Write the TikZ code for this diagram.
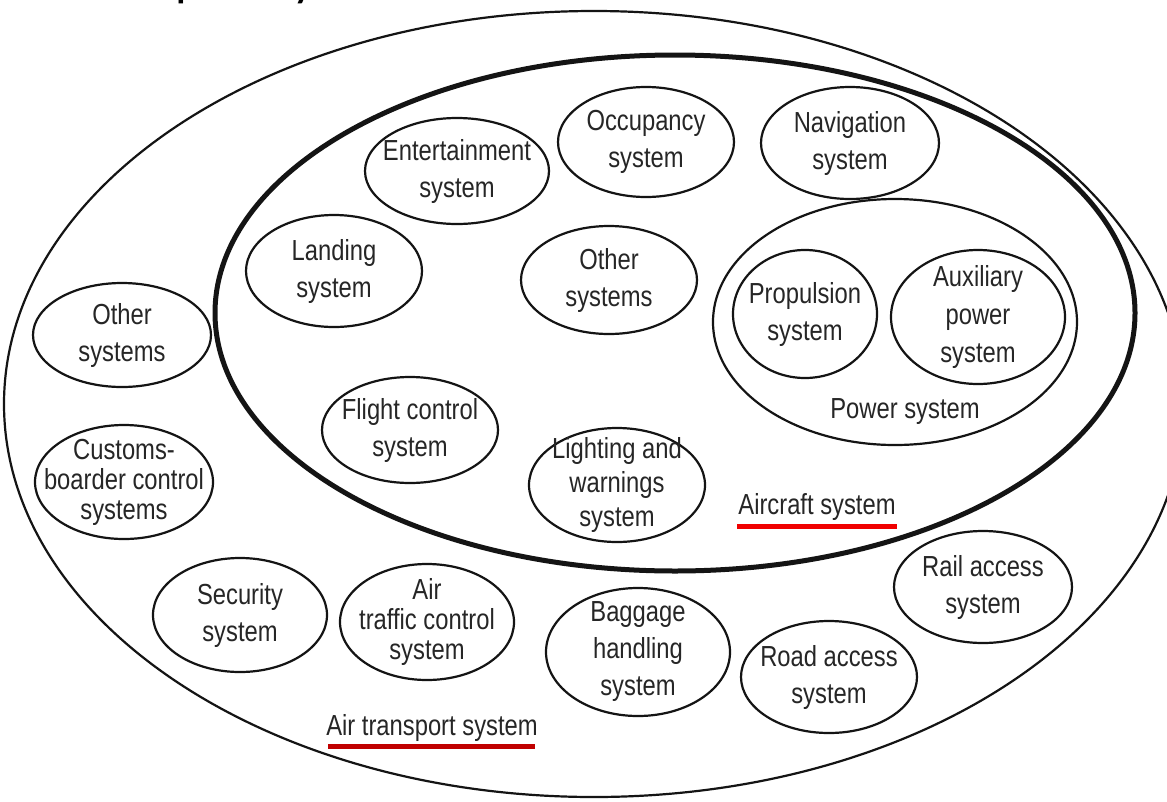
\documentclass[tikz,border=0pt]{standalone}
\usepackage{fontspec}
\setmainfont[FakeStretch=0.82]{Liberation Sans}
\newfontfamily\titlefont{Carlito}
\usetikzlibrary{shapes.geometric}
\definecolor{linec}{HTML}{141414}
\definecolor{txt}{HTML}{262626}
\definecolor{redA}{HTML}{F00000}
\definecolor{redB}{HTML}{C00000}
\newcommand\ovalfont{\fontsize{29}{37}\selectfont}
\newcommand\ovalfontc{\fontsize{29}{30}\selectfont}
\newcommand\ovalfontd{\fontsize{29}{34}\selectfont}
\newcommand\ovalfonte{\fontsize{29}{38}\selectfont}
\tikzset{
  oval/.style={ellipse, draw=linec, line width=2.2pt, inner sep=0pt},
  container/.style={ellipse, draw=linec, inner sep=0pt},
  lbl/.style={text=txt, font=\ovalfont, inner sep=0pt, align=center},
  uline/.style={line width=5pt},
}
\begin{document}
\begin{tikzpicture}[x=1pt,y=-1pt]
\useasboundingbox (0,0) rectangle (1167,801);
\fill[white] (0,0) rectangle (1167,801);
\clip (0,0) rectangle (1167,801);
% cut-off title
\node[anchor=base west, font=\titlefont\fontsize{52}{60}\selectfont, inner sep=0pt] (title) at (79,-5) {Complexity};
% containers
\node[container, line width=2.2pt, minimum width=1180pt, minimum height=786pt] (ats) at (594,404) {};
\node[container, line width=5pt, minimum width=920pt, minimum height=516pt] (acs) at (675,313) {};
\node[container, line width=2.2pt, minimum width=364pt, minimum height=246pt] (pow) at (895,322) {};
% aircraft subsystems
\node[oval, minimum width=184pt, minimum height=106pt] (ent) at (457,171) {};
\node[lbl] (entt) at (ent) {Entertainment\\system};
\node[oval, minimum width=176pt, minimum height=110pt] (occ) at (646,142) {};
\node[lbl] (occt) at (occ) {Occupancy\\system};
\node[oval, minimum width=178pt, minimum height=112pt] (nav) at (850,143) {};
\node[lbl] (navt) at (nav) {Navigation\\system};
\node[oval, minimum width=176pt, minimum height=112pt] (land) at (334,271) {};
\node[lbl] (landt) at (land) {Landing\\system};
\node[oval, minimum width=176pt, minimum height=108pt] (othin) at (609,280) {};
\node[lbl] (othint) at (othin) {Other\\systems};
\node[oval, minimum width=144pt, minimum height=128pt] (prop) at (805,314) {};
\node[lbl] (propt) at (prop) {Propulsion\\system};
\node[oval, minimum width=174pt, minimum height=134pt] (aux) at (978,317) {};
\node[lbl, font=\ovalfonte] (auxt) at (aux) {Auxiliary\\power\\system};
\node[oval, minimum width=176pt, minimum height=106pt] (flight) at (410,430) {};
\node[lbl] (flightt) at (flight) {Flight control\\system};
\node[oval, minimum width=176pt, minimum height=114pt] (light) at (617,485) {};
\node[lbl, font=\ovalfontd] (lightt) at (light) {Lighting and\\warnings\\system};
\node[lbl] (powl) at (905,412) {Power system};
\node[lbl] (acl) at (817,507) {Aircraft system};
\coordinate (acu1) at (737,526);
\coordinate (acu2) at (897,526);
\draw[uline, redA] (acu1) -- (acu2);
% air transport subsystems
\node[oval, minimum width=178pt, minimum height=104pt] (othout) at (122,335) {};
\node[lbl] (othoutt) at (othout) {Other\\systems};
\node[oval, minimum width=178pt, minimum height=114pt] (cust) at (124,482) {};
\node[lbl, font=\ovalfontc] (custt) at (cust) {Customs-\\boarder control\\systems};
\node[oval, minimum width=174pt, minimum height=114pt] (sec) at (240,615) {};
\node[lbl] (sect) at (sec) {Security\\system};
\node[oval, minimum width=174pt, minimum height=116pt] (atc) at (427,622) {};
\node[lbl, font=\ovalfontc] (atct) at (atc) {Air\\traffic control\\system};
\node[oval, minimum width=184pt, minimum height=128pt] (bag) at (638,652) {};
\node[lbl] (bagt) at (bag) {Baggage\\handling\\system};
\node[oval, minimum width=176pt, minimum height=112pt] (road) at (829,677) {};
\node[lbl] (roadt) at (road) {Road access\\system};
\node[oval, minimum width=178pt, minimum height=112pt] (rail) at (983,587) {};
\node[lbl] (railt) at (rail) {Rail access\\system};
\node[lbl] (atl) at (432,728) {Air transport system};
\coordinate (atu1) at (328,746);
\coordinate (atu2) at (535,746);
\draw[uline, redB] (atu1) -- (atu2);
\end{tikzpicture}
\end{document}
